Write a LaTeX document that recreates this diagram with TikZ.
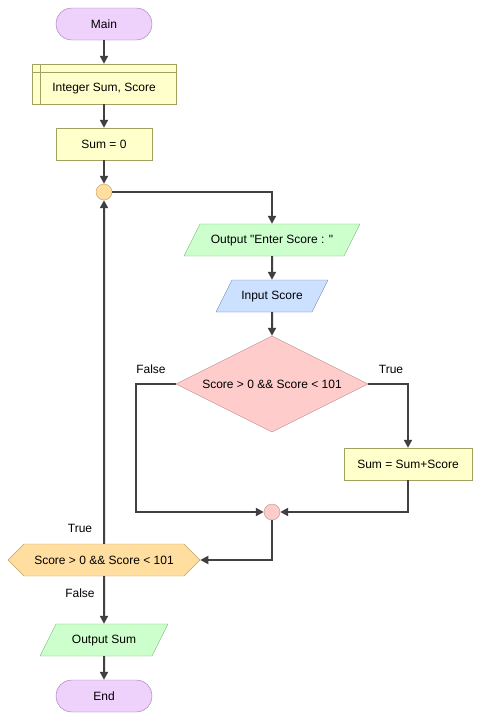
\documentclass[tikz,border=0pt]{standalone}
\usepackage{fontspec}
\setmainfont{Liberation Sans}[Ligatures=TeXOff]
\usetikzlibrary{shapes.geometric,shapes.symbols,arrows.meta}
\definecolor{termfill}{RGB}{238,210,252}
\definecolor{termline}{RGB}{158,112,176}
\definecolor{procfill}{RGB}{255,255,204}
\definecolor{procline}{RGB}{160,160,96}
\definecolor{outfill}{RGB}{204,255,204}
\definecolor{outline}{RGB}{112,176,112}
\definecolor{infill}{RGB}{204,224,255}
\definecolor{inline}{RGB}{112,128,176}
\definecolor{condfill}{RGB}{255,204,204}
\definecolor{condline}{RGB}{192,144,144}
\definecolor{loopfill}{RGB}{255,222,160}
\definecolor{loopline}{RGB}{192,160,96}
\definecolor{arrline}{RGB}{64,64,64}
\begin{document}
\begin{tikzpicture}[x=1pt,y=-1pt,font=\fontsize{12}{14}\selectfont,
  term/.style={draw=termline,fill=termfill,rounded corners=16pt,minimum width=96pt,minimum height=32pt,inner sep=0pt},
  proc/.style={draw=procline,fill=procfill,minimum height=32pt,inner sep=0pt},
  outp/.style={trapezium,trapezium stretches body=true,trapezium left angle=63.43,trapezium right angle=116.57,draw=outline,fill=outfill,text height=8.5pt,text depth=2.5pt,inner xsep=0pt,inner ysep=10.5pt},
  inp/.style={outp,draw=inline,fill=infill},
  cond/.style={diamond,aspect=2,draw=condline,fill=condfill,minimum width=192pt,minimum height=96pt,inner sep=0pt},
  loopcond/.style={signal,signal to=east and west,signal pointer angle=90,draw=loopline,fill=loopfill,minimum width=192pt,minimum height=32pt,inner sep=0pt},
  joint/.style={circle,minimum size=16pt,inner sep=0pt},
  conn/.style={draw=arrline,line width=2pt,-{Triangle[length=8pt,width=8pt]}}]
\useasboundingbox (0,0) rectangle (481,721);

% main column
\node[term] (main) at (104,24) {Main};
\node[proc,minimum width=144pt,minimum height=40pt,text height=18pt,text depth=2.5pt] (decl) at (104,84) {Integer Sum, Score};
\draw[procline] ([xshift=8pt]decl.north west) -- ([xshift=8pt]decl.south west);
\draw[procline] ([yshift=-8pt]decl.north west) -- ([yshift=-8pt]decl.north east);
\node[proc,minimum width=96pt] (init) at (104,144) {Sum = 0};
\node[joint,draw=loopline,fill=loopfill] (loop) at (104,192) {};

% loop body
\node[outp,minimum width=176pt] (ask) at (272,240) {Output "Enter Score : "};
\node[inp,minimum width=112pt] (read) at (272,296) {Input Score};
\node[cond] (check) at (272,384) {Score > 0 \&\& Score < 101};
\node[proc,minimum width=128pt] (add) at (408,464) {Sum = Sum+Score};
\node[joint,draw=condline,fill=condfill] (merge) at (272,512) {};
\coordinate (skip) at (136,512);
\node at (151,369) {False};
\node at (391,369) {True};

% loop test and end
\node[loopcond] (again) at (104,560) {Score > 0 \&\& Score < 101};
\node at (80,528) {True};
\node at (80,593) {False};
\node[outp,minimum width=128pt] (show) at (104,640) {Output Sum};
\node[term] (end) at (104,696) {End};

% connectors
\draw[conn] (main) -- (decl);
\draw[conn] (decl) -- (init);
\draw[conn] (init) -- (loop);
\draw[conn] (loop) -| (ask);
\draw[conn] (ask) -- (read);
\draw[conn] (read) -- (check);
\draw[conn] (check.west) -| (skip) -- (merge);
\draw[conn] (check.east) -| (add);
\draw[conn] (add) |- (merge);
\draw[conn] (merge) |- (again);
\draw[conn] (again) -- (loop);
\draw[conn] (again) -- (show);
\draw[conn] (show) -- (end);
\end{tikzpicture}
\end{document}
